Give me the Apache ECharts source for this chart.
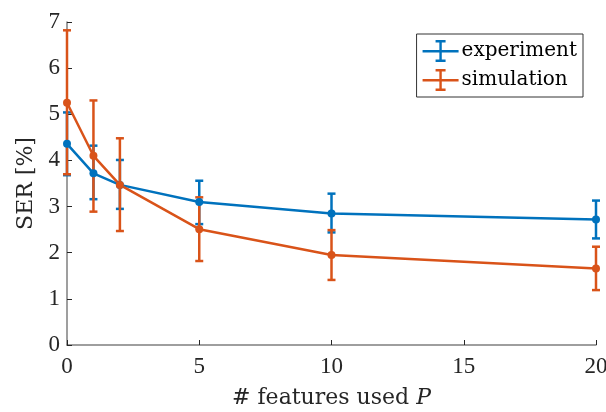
<!DOCTYPE html>
<html><head><meta charset="utf-8">
<script src="https://cdn.jsdelivr.net/npm/echarts@6/dist/echarts.min.js"></script>
<style>html,body{margin:0;padding:0;background:#fff}#c{width:606px;height:412px}</style>
</head><body><div id="c"></div>
<script>
const features = [0, 1, 2, 5, 10, 20];
const expMean = [4.36, 3.72, 3.47, 3.10, 2.85, 2.72];
const expLow  = [3.68, 3.16, 2.95, 2.62, 2.44, 2.31];
const expHigh = [5.04, 4.32, 4.01, 3.56, 3.28, 3.13];
const simMean = [5.25, 4.10, 3.47, 2.51, 1.95, 1.66];
const simLow  = [3.70, 2.89, 2.47, 1.82, 1.41, 1.19];
const simHigh = [6.82, 5.30, 4.48, 3.20, 2.49, 2.13];
const xTicks = [0, 5, 10, 15, 20];
const yTicks = [0, 1, 2, 3, 4, 5, 6, 7];

const BLUE = '#0072BD', ORANGE = '#D95319';
const FONT = 'DejaVu Serif';
const NUMFONT = 'Liberation Serif';
const icon = 'path://M0,10H36V12.4H0Z M16.8,0H19.2V22H16.8Z M13,0H23V2.4H13Z M13,19.6H23V22H13Z';

function errSeries(low, high, color) {
  return {
    type: 'custom', silent: true, clip: false, z: 2,
    data: features.map((x, i) => [x, low[i], high[i]]),
    renderItem: function (params, api) {
      const x = api.value(0);
      const lo = api.coord([x, api.value(1)]);
      const hi = api.coord([x, api.value(2)]);
      const w = 4;
      const st = {stroke: color, lineWidth: 2.5};
      return {type: 'group', children: [
        {type: 'line', shape: {x1: lo[0], y1: lo[1], x2: hi[0], y2: hi[1]}, style: st},
        {type: 'line', shape: {x1: lo[0]-w, y1: lo[1], x2: lo[0]+w, y2: lo[1]}, style: st},
        {type: 'line', shape: {x1: hi[0]-w, y1: hi[1], x2: hi[0]+w, y2: hi[1]}, style: st}
      ]};
    }
  };
}
function lineSeries(name, mean, color) {
  return {
    name: name, type: 'line', z: 3,
    data: features.map((x, i) => [x, mean[i]]),
    symbol: 'circle', symbolSize: 8, showSymbol: true,
    itemStyle: {color: color}, lineStyle: {color: color, width: 2.5},
    animation: false
  };
}

const chart = echarts.init(document.getElementById('c'), null, {renderer: 'canvas'});
chart.setOption({
  animation: false,
  backgroundColor: '#fff',
  textStyle: {fontFamily: FONT},
  grid: {left: 67, right: 10, top: 22, bottom: 67, containLabel: false, outerBoundsMode: 'none'},
  legend: {
    data: ['experiment', 'simulation'], orient: 'vertical',
    right: 23, top: 34, icon: icon, itemWidth: 36, itemHeight: 22, itemGap: 7,
    borderColor: '#333', borderWidth: 1, padding: [6, 6, 6, 6],
    textStyle: {fontFamily: FONT, fontSize: 20, color: '#000', padding: [0, 0, 0, -2]},
    selectedMode: false
  },
  xAxis: {
    type: 'value', min: 0, max: 20, interval: 5,
    name: '# features used {i|P}', nameLocation: 'middle', nameGap: 42,
    nameTextStyle: {fontFamily: FONT, fontSize: 22, color: '#262626',
      rich: {i: {fontFamily: FONT, fontStyle: 'italic', fontSize: 22, color: '#262626'}}},
    axisLine: {show: true, onZero: false, lineStyle: {color: '#7f7f7f', width: 1.5}},
    axisTick: {show: true, inside: true, length: 5, lineStyle: {color: '#262626'}},
    axisLabel: {fontFamily: NUMFONT, fontSize: 23, color: '#262626', margin: 10,
      formatter: v => xTicks.includes(v) ? String(v) : ''},
    splitLine: {show: false}
  },
  yAxis: {
    type: 'value', min: 0, max: 7, interval: 1,
    name: 'SER [%]', nameLocation: 'middle', nameGap: 30, nameRotate: 90,
    nameTextStyle: {fontFamily: FONT, fontSize: 22, color: '#262626'},
    axisLine: {show: true, onZero: false, lineStyle: {color: '#7f7f7f', width: 1.5}},
    axisTick: {show: true, inside: true, length: 5, lineStyle: {color: '#262626'}},
    axisLabel: {fontFamily: NUMFONT, fontSize: 23, color: '#262626', margin: 7,
      formatter: v => yTicks.includes(v) ? String(v) : ''},
    splitLine: {show: false}
  },
  series: [
    errSeries(expLow, expHigh, BLUE),
    lineSeries('experiment', expMean, BLUE),
    errSeries(simLow, simHigh, ORANGE),
    lineSeries('simulation', simMean, ORANGE)
  ]
});
</script></body></html>
